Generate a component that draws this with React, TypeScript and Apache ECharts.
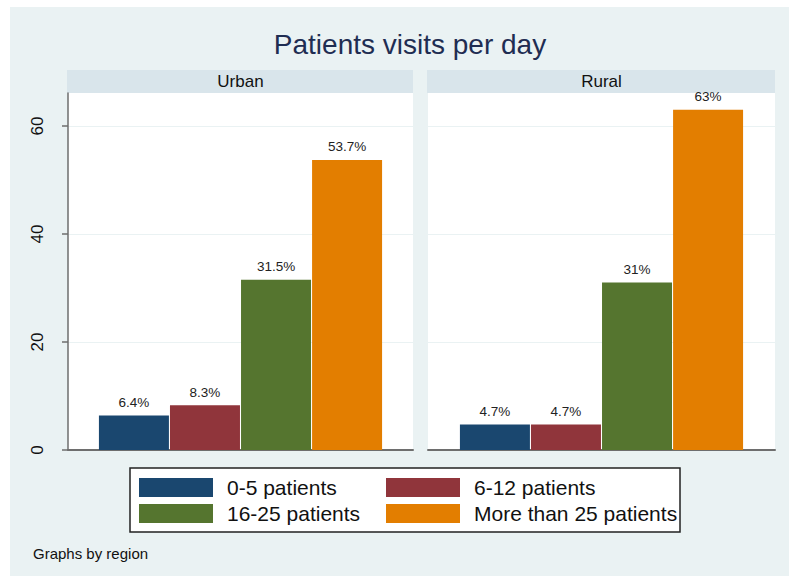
import React, { useEffect, useRef } from "react";
import * as echarts from "echarts";

const title = "Patients visits per day";
const note = "Graphs by region";
const regions = ["Urban", "Rural"];
const groups = ["0-5 patients", "6-12 patients", "16-25 patients", "More than 25 patients"];
const urbanValues = [6.4, 8.3, 31.5, 53.7];
const ruralValues = [4.7, 4.7, 31, 63];
const yTicks = [0, 20, 40, 60];

const colors = ["#1a476f", "#90353b", "#55752f", "#e37e00"];
const FONT = "'Liberation Sans', Arial, sans-serif";

const grids = [
  { left: 68, top: 93, width: 345, height: 357 },
  { left: 428, top: 93, width: 347, height: 357 },
];

export default function App() {
  const ref = useRef<HTMLDivElement>(null);
  useEffect(() => {
    if (!ref.current) return;
    const chart = echarts.init(ref.current, undefined, { renderer: "svg" });
    const valuesByRegion = [urbanValues, ruralValues];

    const series: any[] = [];
    valuesByRegion.forEach((vals, r) => {
      groups.forEach((g, i) => {
        series.push({
          type: "bar",
          name: g,
          xAxisIndex: r,
          yAxisIndex: r,
          data: [vals[i]],
          barWidth: 70,
          barGap: "1.5%",
          clip: false,
          itemStyle: { color: colors[i] },
          label: {
            show: true,
            position: "top",
            distance: 6,
            formatter: (p: any) => `${p.value}%`,
            fontFamily: FONT,
            fontSize: 13.5,
            color: "#222",
          },
        });
      });
    });

    const graphic: any[] = [
      { type: "rect", z: 100, shape: { x: 0, y: 0, width: 789, height: 7 }, style: { fill: "#fff" } },
      { type: "rect", z: 100, shape: { x: 0, y: 0, width: 10, height: 576 }, style: { fill: "#fff" } },
      {
        type: "text",
        x: 410,
        y: 44,
        style: {
          text: title,
          fill: "#1f2d52",
          font: `28px ${FONT}`,
          textAlign: "center",
          textVerticalAlign: "middle",
        },
      },
      {
        type: "text",
        x: 33,
        y: 553,
        style: {
          text: note,
          fill: "#111",
          font: `15px ${FONT}`,
          textAlign: "left",
          textVerticalAlign: "middle",
        },
      },
      {
        type: "rect",
        shape: { x: 130, y: 468, width: 550, height: 64 },
        style: { fill: "#fff", stroke: "#222", lineWidth: 1.5 },
      },
    ];
    grids.forEach((g, r) => {
      graphic.push({
        type: "rect",
        shape: { x: g.left - 1, y: 70, width: g.width + 1, height: 23 },
        style: { fill: "#d9e5eb" },
      });
      graphic.push({
        type: "text",
        x: g.left + g.width / 2,
        y: 81.5,
        style: {
          text: regions[r],
          fill: "#111",
          font: `17px ${FONT}`,
          textAlign: "center",
          textVerticalAlign: "middle",
        },
      });
    });

    const legendCommon = {
      orient: "vertical",
      top: 477,
      itemWidth: 74,
      itemHeight: 19,
      itemGap: 5,
      icon: "rect",
      padding: 0,
      selectedMode: false,
      textStyle: {
        fontFamily: FONT,
        fontSize: 21,
        color: "#111",
        lineHeight: 19,
        padding: [0, 0, 0, 9],
      },
    };

    chart.setOption({
      animation: false,
      backgroundColor: "#eaf2f3",
      graphic,
      legend: [
        { ...legendCommon, left: 139, data: [groups[0], groups[2]] },
        { ...legendCommon, left: 386, data: [groups[1], groups[3]] },
      ],
      grid: grids.map((g) => ({
        ...g,
        show: true,
        backgroundColor: "#fff",
        borderWidth: 0,
      })),
      xAxis: regions.map((reg, r) => ({
        type: "category",
        gridIndex: r,
        data: [reg],
        axisLine: { show: true, lineStyle: { color: "#6e6e6e", width: 2 } },
        axisTick: { show: false },
        axisLabel: { show: false },
      })),
      yAxis: regions.map((_, r) => ({
        type: "value",
        gridIndex: r,
        min: 0,
        max: 66.1,
        interval: 20,
        axisLine: { show: r === 0, lineStyle: { color: "#6e6e6e", width: 1.5 } },
        axisTick: {
          show: r === 0,
          length: 6,
          customValues: yTicks,
          lineStyle: { color: "#6e6e6e", width: 1.5 },
        },
        axisLabel: {
          show: r === 0,
          customValues: yTicks,
          rotate: 90,
          margin: 22,
          fontFamily: FONT,
          fontSize: 17,
          color: "#111",
        },
        splitLine: { show: true, lineStyle: { color: "#eaf2f3", width: 1 } },
      })),
      series,
    });
    return () => chart.dispose();
  }, []);
  return (
    <div
      ref={ref}
      style={{ position: "absolute", left: 0, top: 0, width: 789, height: 576 }}
    />
  );
}
